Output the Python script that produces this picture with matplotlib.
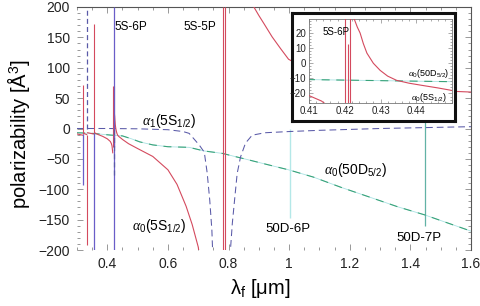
import numpy as np
import matplotlib
matplotlib.use("Agg")
import matplotlib.pyplot as plt
from matplotlib.ticker import MultipleLocator

plt.rcParams['font.family'] = ['Liberation Sans', 'DejaVu Sans']
plt.rcParams['mathtext.fontset'] = 'custom'
plt.rcParams['mathtext.rm'] = 'Liberation Sans'
plt.rcParams['mathtext.it'] = 'Liberation Serif:italic'
plt.rcParams['mathtext.bf'] = 'Liberation Sans:bold'
plt.rcParams['mathtext.sf'] = 'Liberation Sans'

nan = np.nan
# ---- alpha0(5S1/2): branches separated by nan (wavelength in um, polarizability in A^3)
lam_a0_5s = [0.300, 0.310, 0.318, nan,
             0.3215, 0.327, 0.332, nan,
             0.335, 0.345, 0.354, nan,
             0.358, 0.370, 0.385, 0.400, 0.410, 0.4135, 0.4155, 0.418, nan,
             0.4222, 0.4227, 0.4235, 0.4243, 0.4252, 0.4262, 0.428, 0.4299, 0.432, 0.4345,
             0.438, 0.4418, 0.446, 0.450, 0.47, 0.50, 0.55, 0.60, 0.63, 0.66, 0.68, 0.70, 0.706, nan,
             0.86, 0.8836, 0.90, 0.9164, 0.9436, 0.971, 0.998, 1.05, 1.1, 1.2, 1.3, 1.4, 1.5, 1.6]
a0_5s = [-9, -10, -11, nan,
         -8, -9, -10, nan,
         -7, -8, -9, nan,
         -7, -10, -13, -17, -21.4, -25, -28.6, -40, nan,
         60, 29, 24, 20, 13, 6.7, 0, -4.7, -8.5, -11.3,
         -13.2, -14.7, -16.3, -18, -25, -33, -46, -68, -92, -128, -158, -195, -215, nan,
         260, 200, 186, 173, 151, 132, 114, 100, 90, 78, 70, 65, 62, 60]

# ---- alpha1(5S1/2)
lam_a1_5s = [0.30, 0.40, 0.50, 0.60, 0.65, 0.67, 0.703, 0.72, 0.7295, 0.738, 0.745, 0.747, 0.748, nan,
             0.806, 0.807, 0.8125, 0.821, 0.8285, 0.8395, 0.856, 0.878, 0.92, 1.0, 1.1, 1.2, 1.3, 1.45, 1.6]
a1_5s = [0, 0, -0.5, -2, -5, -8, -27, -39, -73, -118, -167, -195, -230, nan,
         -230, -195, -156, -112, -74, -47, -24, -11, -7, -5, -3, -1.5, 0, 1.5, 3]

# ---- alpha0(50D5/2)
lam_a0_50d = [0.30, 0.35, 0.41, 0.43, 0.45, 0.48, 0.507, 0.55, 0.60, 0.67, 0.703, 0.72, 0.78, 0.812,
              0.845, 0.933, 0.998, 1.08, 1.172, 1.26, 1.359, 1.446, 1.52, 1.589, 1.6]
a0_50d = [-7, -8, -10.8, -11.5, -12.2, -17, -22, -27, -30, -31, -35, -37, -41, -45,
          -49, -60, -68, -80, -97, -112, -129, -142, -155, -167, -169]

# ---- resonance lines (x, lower end, upper end)
red_res_x = [0.3205, 0.3335, 0.3565, 0.4202, 0.4209, 0.4216, 0.781, 0.789]
red_res_lo = [-9, -192, -8, -30, -30, -30, -200, -200]
red_res_hi = [71, -10, 172, 70, 13, 70, 200, 200]

blue_res_x = [0.3195, 0.3565, 0.4209]
blue_res_lo = [-93, -200, -200]
blue_res_hi = [-9, -8, 200]

dash_res_x = [0.3335, 0.4205]
dash_res_lo = [0, -77]
dash_res_hi = [200, 0]

d_res_x = [1.004, 1.449]
d_res_lo = [-147, -160]
d_res_hi = [0, 30]
d_res_names = ['50D-6P', '50D-7P']

C_RED = '#d44a5e'
C_BLUE = '#6a5ec8'
C_DASH = '#5a5aa8'
C_GREEN = '#3aa37a'
C_CYAN = '#a8e2e2'


def draw_curves(ax, main=True):
    ax.plot(lam_a0_50d, a0_50d, color=C_CYAN, lw=0.6, zorder=1)
    ax.plot(lam_a0_50d, a0_50d, color=C_GREEN, lw=0.8, dashes=(7.2, 6), zorder=2)
    if main:
        ax.plot(lam_a1_5s, a1_5s, color=C_DASH, lw=0.75, dashes=(6.5, 3.8), zorder=2)
    ax.plot(lam_a0_5s, a0_5s, color=C_RED, lw=0.8, zorder=3)
    ax.vlines(red_res_x, red_res_lo, red_res_hi, color=C_RED, lw=0.8, zorder=3)


fig = plt.figure(figsize=(4.8, 3.06), dpi=100)
ax = fig.add_axes([77/480, 56/306, 394/480, 243/306])

draw_curves(ax, main=True)
ax.vlines(blue_res_x, blue_res_lo, blue_res_hi, color=C_BLUE, lw=0.9, zorder=4)
ax.vlines(dash_res_x, dash_res_lo, dash_res_hi, color=C_DASH, lw=0.9,
          linestyles=(0, (4, 2.5)), zorder=4)
ax.vlines(d_res_x[0], d_res_lo[0], d_res_hi[0], color='#b4e8e8', lw=1.0, zorder=1)
ax.vlines(d_res_x[1], d_res_lo[1], d_res_hi[1], color='#62b2a6', lw=0.9, zorder=1)

ax.set_xlim(0.3, 1.6)
ax.set_ylim(-200, 200)
ax.xaxis.set_major_locator(MultipleLocator(0.2))
ax.xaxis.set_minor_locator(MultipleLocator(0.05))
ax.yaxis.set_major_locator(MultipleLocator(50))
ax.yaxis.set_minor_locator(MultipleLocator(10))
ax.set_xticks([0.4, 0.6, 0.8, 1.0, 1.2, 1.4, 1.6])
ax.set_xticklabels(['0.4', '0.6', '0.8', '1', '1.2', '1.4', '1.6'])
ax.tick_params(which='both', direction='in', top=True, right=True, color='#888888', width=0.6,
               labelsize=10, labelcolor='#222222')
ax.tick_params(which='major', length=4, pad=5)
ax.tick_params(which='minor', length=2)
for s in ['left', 'bottom']:
    ax.spines[s].set_visible(False)
for s in ['top', 'right']:
    ax.spines[s].set_color('#555555')
    ax.spines[s].set_linewidth(0.8)

ax.set_ylabel('polarizability [Å$^3$]', fontsize=14.5)
ax.yaxis.set_label_coords(-0.115, 0.477)
ax.set_xlabel('λ$_\\mathrm{f}$ [μm]', fontsize=14.5)
ax.xaxis.set_label_coords(0.464, -0.112)

ax.text(0.477, 167, '5S-6P', fontsize=8.5, ha='center', va='center')
ax.text(0.705, 167, '5S-5P', fontsize=8.5, ha='center', va='center')
ax.text(0.605, 12, r'$\alpha_1$(5S$_{1/2}$)', fontsize=10, ha='center', va='center')
ax.text(0.572, -160, r'$\alpha_0$(5S$_{1/2}$)', fontsize=10, ha='center', va='center')
ax.text(1.218, -68, r'$\alpha_0$(50D$_{5/2}$)', fontsize=10, ha='center', va='center')
ax.text(0.995, -165, d_res_names[0], fontsize=9.5, ha='center', va='center')
ax.text(1.428, -180, d_res_names[1], fontsize=9.5, ha='center', va='center')

# ---- inset frame
frame = fig.add_axes([292/480, 1 - 121/306, 163/480, 108/306], zorder=5)
frame.set_facecolor('white')
frame.set_xticks([])
frame.set_yticks([])
for s in frame.spines.values():
    s.set_linewidth(2.2)
    s.set_color('#111111')

ins = fig.add_axes([309/480, 1 - 103/306, 143/480, 84/306], zorder=6)
ins.set_facecolor('white')
draw_curves(ins, main=False)
ins.set_xlim(0.41, 0.45)
ins.set_ylim(-26.3, 29.3)
ins.set_xticks([0.41, 0.42, 0.43, 0.44])
ins.set_xticklabels(['0.41', '0.42', '0.43', '0.44'])
ins.set_yticks([-20, -10, 0, 10, 20])
ins.xaxis.set_minor_locator(MultipleLocator(0.002))
ins.yaxis.set_minor_locator(MultipleLocator(2))
ins.tick_params(which='both', direction='in', top=True, right=True, color='#888888', width=0.5,
                labelsize=7, labelcolor='#222222', pad=2)
ins.tick_params(which='major', length=3)
ins.tick_params(which='minor', length=1.5)
for s in ins.spines.values():
    s.set_color('#777777')
    s.set_linewidth(0.6)
ins.text(0.4138, 21, '5S-6P', fontsize=7, ha='left', va='center')
ins.text(0.4492, -6.7, r'$\alpha_0$(50D$_{5/2}$)', fontsize=6.5, ha='right', va='center')
ins.text(0.4487, -22.7, r'$\alpha_0$(5S$_{1/2}$)', fontsize=6.5, ha='right', va='center')

fig.savefig('out.png', dpi=100)
